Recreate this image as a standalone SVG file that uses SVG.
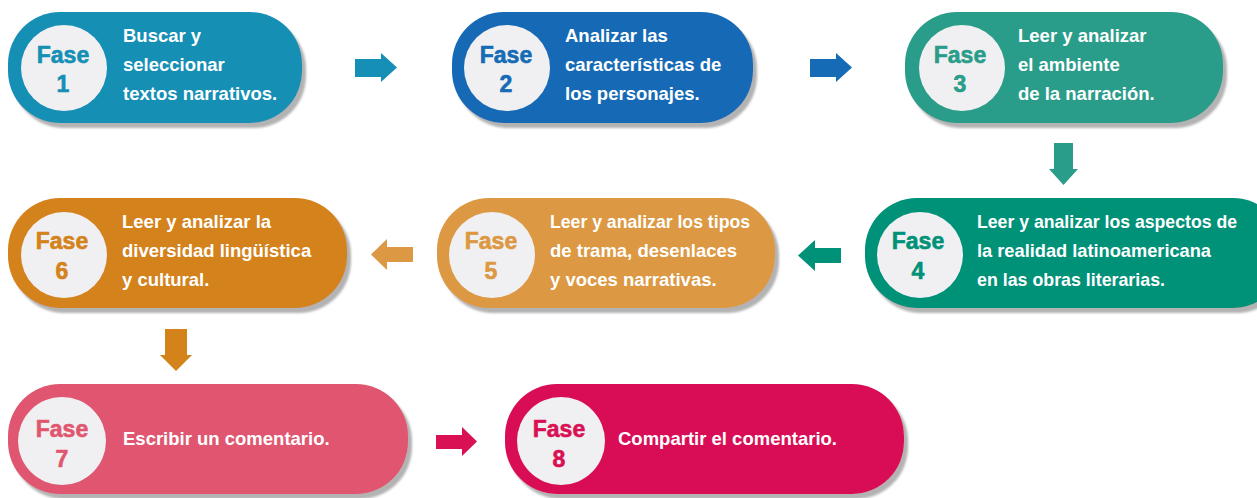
<svg xmlns="http://www.w3.org/2000/svg" width="1257" height="498" viewBox="0 0 1257 498">
<defs>
<filter id="sh" x="-5%" y="-10%" width="115%" height="130%">
<feDropShadow dx="4" dy="5" stdDeviation="1.2" flood-color="#9a9a9a" flood-opacity="0.75"/>
</filter>
<style>
.pill{filter:url(#sh)}
.circ{fill:#f0f0f2}
.fase{font-family:"Liberation Sans",Arial,sans-serif;font-weight:bold;font-size:23px;text-anchor:middle;stroke-width:0.6px}
.lbl{font-family:"Liberation Sans",Arial,sans-serif;font-weight:bold;font-size:18.5px;fill:#ffffff}
</style>
</defs>
<rect width="1257" height="498" fill="#ffffff"/>

<g id="connectors">
<polygon fill="#158fb5" points="355,59 381,59 381,53 397,67.5 381,82 381,77 355,77"/>
<polygon fill="#156bb5" points="810,59 836,59 836,53 852,67.5 836,82 836,77 810,77"/>
<polygon fill="#2a9d8a" points="1054,143 1073,143 1073,169 1078,169 1063.5,185 1049,169 1054,169"/>
<polygon fill="#009179" points="841,248 815,248 815,240 798,255.5 815,271 815,263 841,263"/>
<polygon fill="#dc9843" points="413,247 387,247 387,239 371,254.5 387,270 387,262 413,262"/>
<polygon fill="#d4821a" points="165,329 187,329 187,355 192,355 176,371 160,355 165,355"/>
<polygon fill="#d91054" points="436,435 462,435 462,427 477,441.5 462,456 462,449 436,449"/>
</g>

<g id="fase1">
<rect class="pill" x="8" y="12" width="294" height="111" rx="52" fill="#158fb5"/>
<circle class="circ" cx="64" cy="68" r="43" fill="#eeeef6"/>
<text class="fase" x="63" y="63" fill="#158fb5" stroke="#158fb5">Fase</text>
<text class="fase" x="63" y="92" fill="#158fb5" stroke="#158fb5">1</text>
<text class="lbl" x="123" y="42">Buscar y</text>
<text class="lbl" x="123" y="71">seleccionar</text>
<text class="lbl" x="123" y="100">textos narrativos.</text>
</g>

<g id="fase2">
<rect class="pill" x="452" y="12" width="301" height="111" rx="52" fill="#156bb5"/>
<circle class="circ" cx="507" cy="68" r="43" fill="#eeeef6"/>
<text class="fase" x="506" y="63" fill="#156bb5" stroke="#156bb5">Fase</text>
<text class="fase" x="506" y="92" fill="#156bb5" stroke="#156bb5">2</text>
<text class="lbl" x="565" y="42">Analizar las</text>
<text class="lbl" x="565" y="71">características de</text>
<text class="lbl" x="565" y="100">los personajes.</text>
</g>

<g id="fase3">
<rect class="pill" x="905" y="12" width="318" height="111" rx="52" fill="#2a9d8a"/>
<circle class="circ" cx="962" cy="68" r="43"/>
<text class="fase" x="960" y="63" fill="#2a9d8a" stroke="#2a9d8a">Fase</text>
<text class="fase" x="960" y="92" fill="#2a9d8a" stroke="#2a9d8a">3</text>
<text class="lbl" x="1018" y="42">Leer y analizar</text>
<text class="lbl" x="1018" y="71">el ambiente</text>
<text class="lbl" x="1018" y="100">de la narración.</text>
</g>

<g id="fase4">
<rect class="pill" x="865" y="198" width="420" height="110" rx="52" fill="#009179"/>
<circle class="circ" cx="920" cy="255" r="43"/>
<text class="fase" x="918" y="249" fill="#009179" stroke="#009179">Fase</text>
<text class="fase" x="918" y="279" fill="#009179" stroke="#009179">4</text>
<text class="lbl" x="977" y="228" textLength="260" lengthAdjust="spacingAndGlyphs">Leer y analizar los aspectos de</text>
<text class="lbl" x="977" y="257" textLength="234" lengthAdjust="spacingAndGlyphs">la realidad latinoamericana</text>
<text class="lbl" x="977" y="286" textLength="188" lengthAdjust="spacingAndGlyphs">en las obras literarias.</text>
</g>

<g id="fase5">
<rect class="pill" x="437" y="198" width="338" height="110" rx="52" fill="#dc9843"/>
<circle class="circ" cx="492" cy="255" r="43"/>
<text class="fase" x="491" y="249" fill="#dc9843" stroke="#dc9843">Fase</text>
<text class="fase" x="491" y="279" fill="#dc9843" stroke="#dc9843">5</text>
<text class="lbl" x="550" y="228" textLength="200" lengthAdjust="spacingAndGlyphs">Leer y analizar los tipos</text>
<text class="lbl" x="550" y="257">de trama, desenlaces</text>
<text class="lbl" x="550" y="286">y voces narrativas.</text>
</g>

<g id="fase6">
<rect class="pill" x="8" y="198" width="339" height="110" rx="52" fill="#d4821a"/>
<circle class="circ" cx="64" cy="255" r="43"/>
<text class="fase" x="62" y="249" fill="#d4821a" stroke="#d4821a">Fase</text>
<text class="fase" x="62" y="279" fill="#d4821a" stroke="#d4821a">6</text>
<text class="lbl" x="122" y="228">Leer y analizar la</text>
<text class="lbl" x="122" y="257">diversidad lingüística</text>
<text class="lbl" x="122" y="286">y cultural.</text>
</g>

<g id="fase7">
<rect class="pill" x="8" y="384" width="400" height="110" rx="52" fill="#e0566f"/>
<circle class="circ" cx="62" cy="441" r="44"/>
<text class="fase" x="62" y="437" fill="#e0566f" stroke="#e0566f">Fase</text>
<text class="fase" x="62" y="467" fill="#e0566f" stroke="#e0566f">7</text>
<text class="lbl" x="123" y="445">Escribir un comentario.</text>
</g>

<g id="fase8">
<rect class="pill" x="505" y="384" width="399" height="110" rx="52" fill="#d91054"/>
<circle class="circ" cx="561" cy="441" r="44"/>
<text class="fase" x="559" y="437" fill="#d91054" stroke="#d91054">Fase</text>
<text class="fase" x="559" y="467" fill="#d91054" stroke="#d91054">8</text>
<text class="lbl" x="618" y="445">Compartir el comentario.</text>
</g>
</svg>
